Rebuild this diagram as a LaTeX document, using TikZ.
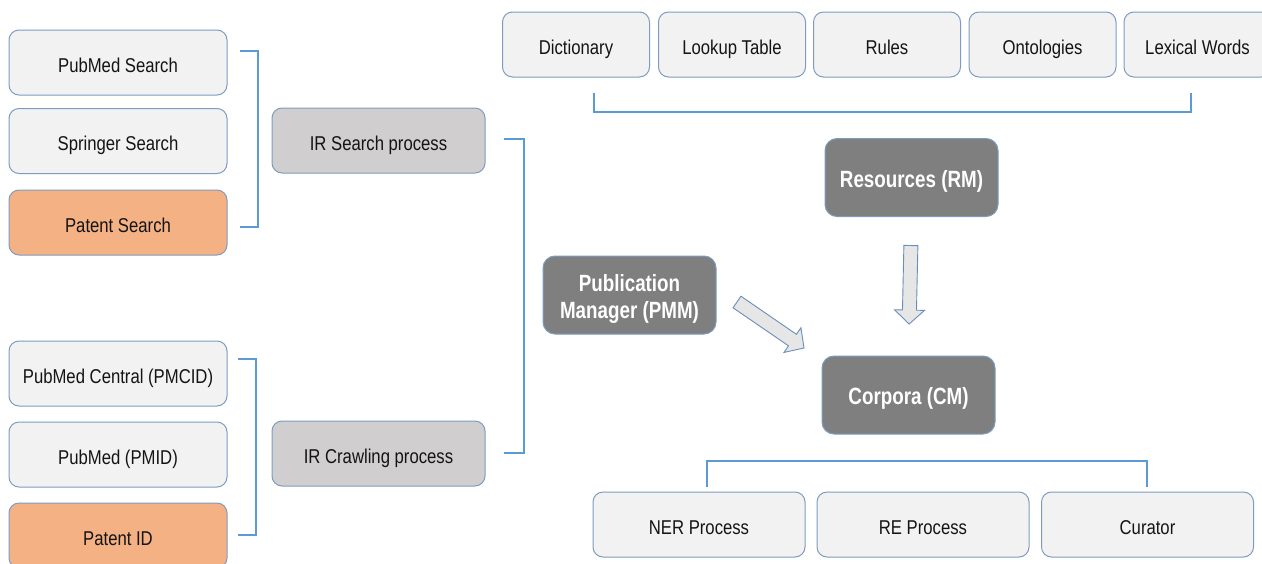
\documentclass[tikz,border=0pt]{standalone}
\usepackage{fontspec}
\setmainfont[FakeStretch=0.835]{Liberation Sans}
\newfontfamily\darkfont[FakeStretch=0.80]{Liberation Sans}
\usetikzlibrary{calc}

\definecolor{boxline}{HTML}{7E9CC2}
\definecolor{lightfill}{HTML}{F2F2F2}
\definecolor{orangefill}{HTML}{F4B183}
\definecolor{grayfill}{HTML}{D0CECE}
\definecolor{darkfill}{HTML}{7F7F7F}
\definecolor{bracketblue}{HTML}{5B9BD5}
\definecolor{arrowfill}{HTML}{E7E6E6}
\definecolor{arrowline}{HTML}{6A8EBB}
\definecolor{inktext}{HTML}{141414}

\tikzset{
  basebox/.style={draw=boxline, line width=1pt, rounded corners=10pt, inner sep=0pt,
    align=center, text=inktext, font=\fontsize{20}{23}\selectfont},
  oneline/.style={text height=21.5pt, text depth=2pt},
  lightbox/.style={basebox, oneline, fill=lightfill},
  orangebox/.style={basebox, oneline, fill=orangefill},
  graybox/.style={basebox, oneline, fill=grayfill},
  darkbox/.style={basebox, fill=darkfill, rounded corners=12pt, text=white,
    font=\darkfont\bfseries\fontsize{23.5}{27}\selectfont,
    minimum width=173pt, minimum height=78pt},
  darksingle/.style={darkbox, text height=21.5pt, text depth=2pt},
  srcbox/.style={minimum width=218pt, minimum height=65pt},
  irbox/.style={minimum width=213pt, minimum height=65pt},
  resbox/.style={minimum width=147pt, minimum height=65pt},
  taskbox/.style={minimum width=212pt, minimum height=65pt},
  bracket/.style={draw=bracketblue, line width=1.3pt},
  blockarrow/.style={draw=arrowline, fill=arrowfill, line width=0.9pt, line join=miter},
}

% Block arrow from #1 to #2: shaft 14pt wide, head 30pt wide and 14pt long
\newcommand{\blockarrowpath}[2]{%
  \path coordinate (#1h) at ($(#2)!14pt!(#1)$);
  \draw[blockarrow]
    ($(#1)!7pt!90:(#2)$) -- ($(#1h)!7pt!-90:(#1)$) -- ($(#1h)!15pt!-90:(#1)$)
    -- (#2) -- ($(#1h)!15pt!90:(#1)$) -- ($(#1h)!7pt!90:(#1)$)
    -- ($(#1)!7pt!-90:(#2)$) -- cycle;}

\begin{document}
\begin{tikzpicture}[x=1pt, y=-1pt]
\useasboundingbox (0,0) rectangle (1262,563);
\fill[white] (0,0) rectangle (1262,563);

% Search sources
\node[lightbox, srcbox]  (pubmed)   at (118,62.5)  {PubMed Search};
\node[lightbox, srcbox]  (springer) at (118,141)   {Springer Search};
\node[orangebox, srcbox] (patent)   at (118,222.5) {Patent Search};

% Crawling sources
\node[lightbox, srcbox]  (pmc)      at (118,373.5) {PubMed Central (PMCID)};
\node[lightbox, srcbox]  (pmid)     at (118,454.5) {PubMed (PMID)};
\node[orangebox, srcbox] (patentid) at (118,535.5) {Patent ID};

% IR processes
\node[graybox, irbox] (irsearch) at (378.5,140.5) {IR Search process};
\node[graybox, irbox] (ircrawl)  at (378.5,453.5) {IR Crawling process};

% Resource types
\node[lightbox, resbox] (dict)    at (576,44.5)    {Dictionary};
\node[lightbox, resbox] (lookup)  at (732,44.5)    {Lookup Table};
\node[lightbox, resbox] (rules)   at (887,44.5)    {Rules};
\node[lightbox, resbox] (onto)    at (1042.5,44.5) {Ontologies};
\node[lightbox, resbox] (lexical) at (1197.5,44.5) {Lexical Words};

% Managers
\node[darkbox]    (pmm) at (629.5,295)  {\rule{0pt}{25pt}Publication\\Manager (PMM)};
\node[darksingle] (rm)  at (911.5,177.5) {Resources (RM)};
\node[darksingle] (cm)  at (908.5,395)   {Corpora (CM)};

% Corpus tasks
\node[lightbox, taskbox] (ner)     at (699,524.5)    {NER Process};
\node[lightbox, taskbox] (re)      at (923,524.5)    {RE Process};
\node[lightbox, taskbox] (curator) at (1147.5,524.5) {Curator};

% Grouping brackets
\draw[bracket] (240,51) -- (258,51) -- (258,227) -- (240,227);
\draw[bracket] (238,359) -- (256,359) -- (256,535) -- (238,535);
\draw[bracket] (504,139) -- (524,139) -- (524,453) -- (504,453);
\draw[bracket] (594,93) -- (594,112) -- (1191,112) -- (1191,93);
\draw[bracket] (707,487) -- (707,461) -- (1147,461) -- (1147,487);

% Flow arrows into the corpora manager
\coordinate (pmA) at (737,302);
\coordinate (pmB) at (804,348);
\coordinate (rmA) at ($(rm.south)!0.206!(cm.north)$);
\coordinate (rmB) at ($(rm.south)!0.773!(cm.north)$);
\blockarrowpath{pmA}{pmB}
\blockarrowpath{rmA}{rmB}
\end{tikzpicture}
\end{document}
